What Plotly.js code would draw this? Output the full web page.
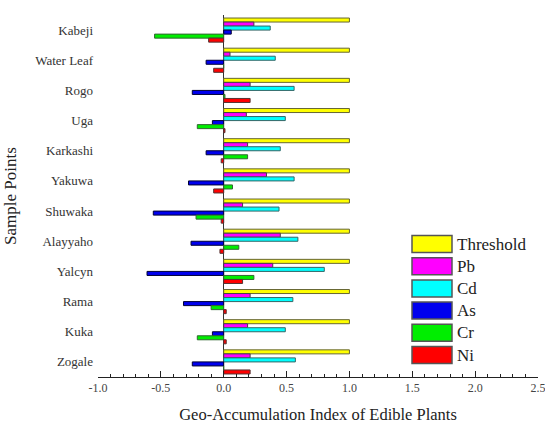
<!DOCTYPE html>
<html>
<head>
<meta charset="utf-8">
<script src="https://cdn.plot.ly/plotly-3.0.1.min.js"></script>
<style>html,body{margin:0;padding:0;background:#fff;}#chart{width:545px;height:425px;}</style>
</head>
<body>
<div id="chart"></div>
<script>
// Categories, top to bottom
const sites = ["Kabeji","Water Leaf","Rogo","Uga","Karkashi","Yakuwa","Shuwaka","Alayyaho","Yalcyn","Rama","Kuka","Zogale"];
const seriesNames = ["Threshold","Pb","Cd","As","Cr","Ni"];
const threshold = [1.0,1.0,1.0,1.0,1.0,1.0,1.0,1.0,1.0,1.0,1.0,1.0];
const pb = [0.24,0.05,0.21,0.18,0.19,0.34,0.15,0.45,0.39,0.21,0.19,0.21];
const cd = [0.37,0.41,0.56,0.49,0.45,0.56,0.44,0.59,0.80,0.55,0.49,0.57];
const as = [0.06,-0.14,-0.25,-0.09,-0.14,-0.28,-0.56,-0.26,-0.61,-0.32,-0.09,-0.25];
const cr = [-0.55,0.0,0.01,-0.21,0.19,0.07,-0.22,0.12,0.24,-0.10,-0.21,0.0];
const ni = [-0.12,-0.08,0.21,0.01,-0.02,-0.08,-0.02,-0.03,0.15,0.02,0.02,0.21];
const xTicks = [-1.0,-0.5,0.0,0.5,1.0,1.5,2.0,2.5];

const values = [threshold,pb,cd,as,cr,ni];
const colors = ["#ffff00","#ff00ff","#00ffff","#0000ee","#00ee00","#ff0000"];
const edge = ["#666633","#444444","#336666","#000033","#336633","#553333"];

const traces = seriesNames.map((n,i)=>({
  type:"bar", orientation:"h", name:n,
  x: values[i], y: sites,
  marker:{color:colors[i], line:{color:edge[i], width:1}},
  showlegend:false, hoverinfo:"x+y+name"
}));

const FONT = "Liberation Serif, DejaVu Serif, serif";

// margins
const M = {l:98, r:7, t:15, b:48};
const W = 545, H = 425;
const pw = W-M.l-M.r, ph = H-M.t-M.b;
const px2x = p => (p-M.l)/pw;
const py2y = p => (H-M.b-p)/ph;

const shapes = [], annotations = [];
seriesNames.forEach((n,i)=>{
  const cy = 244 + i*22.2;
  shapes.push({type:"rect", xref:"paper", yref:"paper",
    x0:px2x(412), x1:px2x(452), y0:py2y(cy+8.5), y1:py2y(cy-8.5),
    fillcolor:colors[i], line:{color:"#555", width:1.5}});
  annotations.push({xref:"paper", yref:"paper", x:px2x(455), y:py2y(cy),
    xanchor:"left", yanchor:"middle", showarrow:false, text:n,
    font:{family:FONT, size:17, color:"#222"}});
});

const layout = {
  width:W, height:H,
  margin:M,
  paper_bgcolor:"#fff", plot_bgcolor:"#fff",
  barmode:"group", bargap:0.2, bargroupgap:0,
  font:{family:FONT, color:"#333"},
  xaxis:{
    range:[-1.0,2.5], tickvals:xTicks, ticktext:xTicks.map(v=>v.toFixed(1)),
    showline:true, linecolor:"#222", linewidth:1,
    ticks:"inside", ticklen:6, tickcolor:"#222",
    minor:{dtick:0.1, ticks:"inside", ticklen:3, tickcolor:"#222"},
    showgrid:false, zeroline:true, zerolinecolor:"#333", zerolinewidth:1.5,
    ticklabeloverflow:"allow",
    tickfont:{family:FONT, size:12, color:"#444"},
    title:{text:"Geo-Accumulation Index of Edible Plants", font:{family:FONT, size:16.5, color:"#222"}, standoff:14}
  },
  yaxis:{
    type:"category", autorange:"reversed",
    showline:false, showgrid:false, ticks:"", zeroline:false,
    tickfont:{family:FONT, size:13, color:"#333"}, ticklabelstandoff:4,
    title:{text:"Sample Points", font:{family:FONT, size:17, color:"#222"}, standoff:14}
  },
  shapes:shapes, annotations:annotations,
  showlegend:false
};

Plotly.newPlot("chart", traces, layout, {displayModeBar:false, staticPlot:true});
</script>
</body>
</html>
